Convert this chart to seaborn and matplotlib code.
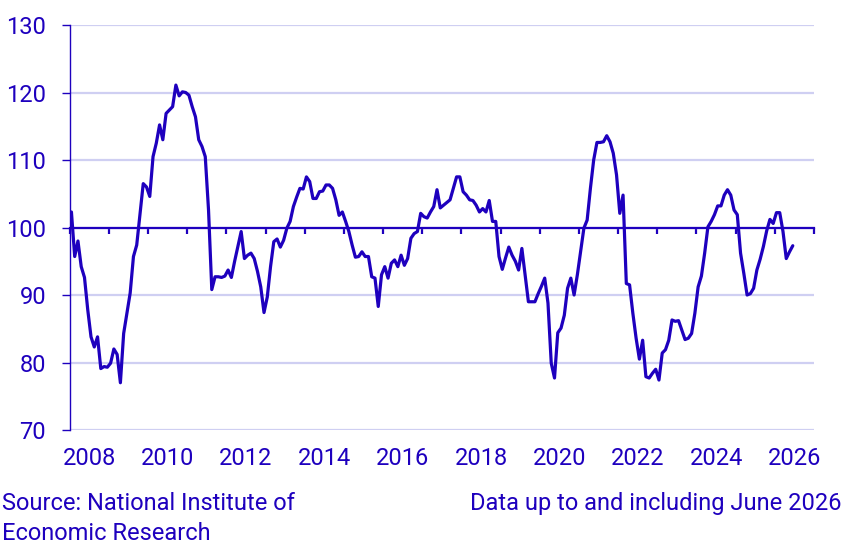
"""
Monthly indicator 2008 - June 2026, line chart around the 100 baseline.
"""

import numpy as np
import pandas as pd
import seaborn as sns
import matplotlib.pyplot as plt

BLUE = "#1E00BE"
GRID = "#CFCFF2"

# monthly values, Jan 2008 .. Jun 2026
v2008 = [102.3, 95.7, 98.0, 94.2, 92.6, 87.8, 83.8, 82.3, 83.8, 79.1, 79.4, 79.3]
v2009 = [79.9, 82.0, 81.2, 77.0, 84.3, 87.3, 90.3, 95.7, 97.4, 102.0, 106.5, 106.0]
v2010 = [104.6, 110.5, 112.5, 115.2, 113.0, 116.9, 117.4, 117.9, 121.1, 119.5, 120.1, 120.0]
v2011 = [119.6, 117.9, 116.4, 113.0, 112.0, 110.5, 102.6, 90.8, 92.7, 92.7, 92.6, 92.8]
v2012 = [93.7, 92.6, 95.0, 97.2, 99.4, 95.4, 95.9, 96.2, 95.4, 93.5, 91.2, 87.4]
v2013 = [89.7, 94.2, 97.9, 98.3, 97.1, 98.1, 99.9, 100.9, 103.1, 104.5, 105.8, 105.7]
v2014 = [107.5, 106.8, 104.3, 104.3, 105.3, 105.4, 106.3, 106.3, 105.8, 104.1, 101.8, 102.3]
v2015 = [100.9, 99.4, 97.4, 95.6, 95.7, 96.4, 95.7, 95.7, 92.7, 92.5, 88.3, 93.0]
v2016 = [94.2, 92.5, 94.7, 95.2, 94.2, 95.9, 94.4, 95.4, 98.4, 99.1, 99.4, 102.1]
v2017 = [101.6, 101.4, 102.3, 103.1, 105.6, 102.9, 103.3, 103.7, 104.1, 105.8, 107.5, 107.5]
v2018 = [105.3, 104.8, 104.1, 104.0, 103.3, 102.3, 102.8, 102.3, 104.0, 100.9, 100.9, 95.7]
v2019 = [93.8, 95.5, 97.1, 95.9, 95.0, 93.7, 96.9, 93.0, 89.0, 89.0, 89.0, 90.2]
v2020 = [91.3, 92.5, 88.8, 79.9, 77.7, 84.4, 85.1, 87.0, 91.0, 92.5, 90.0, 93.0]
v2021 = [96.4, 99.9, 101.1, 105.8, 110.0, 112.6, 112.6, 112.7, 113.6, 112.7, 111.0, 107.8]
v2022 = [102.1, 104.8, 91.7, 91.5, 87.3, 83.6, 80.5, 83.3, 77.9, 77.7, 78.4, 79.0]
v2023 = [77.4, 81.4, 81.9, 83.3, 86.3, 86.1, 86.2, 84.8, 83.4, 83.6, 84.3, 87.3]
v2024 = [91.2, 92.8, 96.2, 100.1, 100.9, 101.9, 103.2, 103.2, 104.8, 105.6, 104.8, 102.6]
v2025 = [101.9, 96.2, 93.2, 90.0, 90.2, 91.0, 93.7, 95.3, 97.2, 99.5, 101.2, 100.6]
v2026 = [102.2, 102.2, 99.4, 95.4, 96.4, 97.3]

values = (v2008 + v2009 + v2010 + v2011 + v2012 + v2013 + v2014 + v2015 + v2016
          + v2017 + v2018 + v2019 + v2020 + v2021 + v2022 + v2023 + v2024 + v2025 + v2026)

start_year = 2008
year_labels = list(range(2008, 2027, 2))
y_ticks = [70, 80, 90, 100, 110, 120, 130]

source_line1 = "Source: National Institute of"
source_line2 = "Economic Research"
note = "Data up to and including June 2026"

# month n plotted at the middle of the month
df = pd.DataFrame({"value": values})
df["t"] = start_year + (np.arange(len(df)) + 0.5) / 12

sns.set_theme(style="white")
plt.rcParams["font.family"] = ["Roboto", "DejaVu Sans"]
plt.rcParams["text.color"] = BLUE

W, H = 851, 549
fig = plt.figure(figsize=(W / 100, H / 100), dpi=100)
ax = fig.add_axes([69.8 / W, 1 - 430 / H, (814 - 69.8) / W, (430 - 25) / H])

ax.yaxis.grid(True, color=GRID, linewidth=1.6)
ax.set_axisbelow(True)

sns.lineplot(data=df, x="t", y="value", ax=ax, color=BLUE, linewidth=2.3)

ax.set_xlim(start_year, 2027)
ax.set_ylim(70, 130)
ax.set_xlabel("")
ax.set_ylabel("")

for s in ["top", "right"]:
    ax.spines[s].set_visible(False)
ax.spines["left"].set_color(BLUE)
ax.spines["left"].set_linewidth(1.0)
ax.spines["bottom"].set_position(("data", 100))
ax.spines["bottom"].set_color(BLUE)
ax.spines["bottom"].set_linewidth(1.6)
ax.spines["bottom"].set_zorder(1.5)

ax.set_yticks(y_ticks)
ax.tick_params(axis="y", colors=BLUE, labelsize=17, length=6, width=1.0,
               direction="out", pad=11, left=True)

# year ticks on the 100 line, no labels there
ax.set_xticks(np.arange(start_year, 2028))
ax.tick_params(axis="x", colors=BLUE, length=4.5, width=1.6, direction="out",
               bottom=True, labelbottom=False)

# year labels centred on mid-year, under the plot
sec = ax.secondary_xaxis("bottom")
sec.set_xticks([y + 0.5 for y in year_labels])
sec.set_xticklabels([str(y) for y in year_labels])
sec.tick_params(length=0, labelsize=17, colors=BLUE, pad=12)
sec.spines["bottom"].set_visible(False)

fig.text(2 / W, 1 - 510 / H, source_line1, fontsize=17, color=BLUE,
         ha="left", va="baseline")
fig.text(2 / W, 1 - 540 / H, source_line2, fontsize=17, color=BLUE,
         ha="left", va="baseline")
fig.text(842 / W, 1 - 510 / H, note, fontsize=17, color=BLUE,
         ha="right", va="baseline")

fig.savefig("out.png", dpi=100)
plt.close(fig)
